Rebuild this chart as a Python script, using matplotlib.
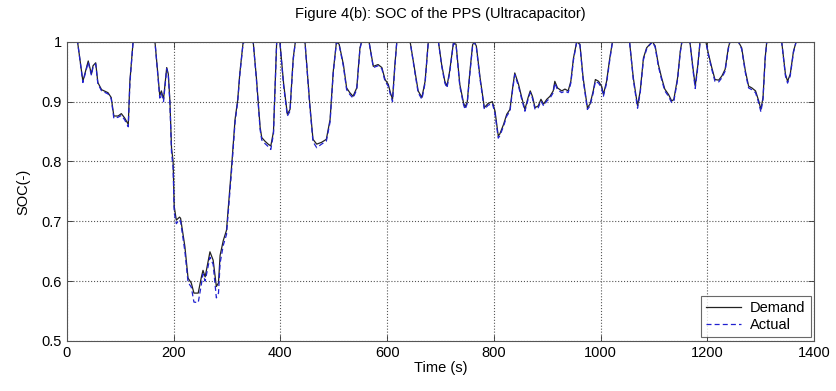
import matplotlib
matplotlib.use("Agg")
import matplotlib.pyplot as plt

plt.rcParams['font.family'] = ['Liberation Sans', 'DejaVu Sans']

time_s = [0, 20, 30, 40, 46, 49, 54, 58, 65, 77, 83, 88, 96, 102, 108, 115, 118, 124,
          165, 174, 177, 181, 187, 190, 193, 196, 199, 201, 205, 211, 213, 221, 227, 233,
          238, 246, 252, 255, 259, 268, 274, 280, 284, 287, 293, 299, 309, 315, 320, 324,
          330, 333, 349, 355, 362, 365, 371, 377, 382, 387, 393, 399, 406, 413, 418, 424,
          428, 446, 455, 461, 468, 477, 486, 493, 499, 505, 510, 518, 524, 530, 536, 543,
          549, 552, 566, 574, 583, 590, 596, 602, 606, 610, 614, 618, 643, 652, 658, 665,
          671, 677, 696, 702, 708, 712, 717, 724, 729, 736, 743, 746, 750, 755, 760, 763,
          767, 774, 782, 789, 797, 802, 808, 811, 818, 824, 830, 835, 839, 846, 852, 858,
          864, 868, 872, 877, 883, 888, 893, 899, 905, 911, 914, 919, 927, 933, 939, 944,
          949, 955, 961, 967, 975, 980, 986, 990, 996, 1002, 1005, 1011, 1017, 1022, 1054,
          1061, 1069, 1074, 1080, 1086, 1092, 1097, 1102, 1108, 1114, 1120, 1127, 1133,
          1137, 1144, 1149, 1152, 1167, 1172, 1177, 1182, 1186, 1197, 1202, 1208, 1214,
          1221, 1227, 1233, 1239, 1242, 1258, 1264, 1271, 1277, 1283, 1290, 1296, 1300,
          1304, 1308, 1311, 1339, 1346, 1350, 1355, 1361, 1366, 1370]

soc_demand = [1.0, 1.0, 0.934, 0.968, 0.946, 0.96, 0.965, 0.932, 0.92, 0.915, 0.907, 0.876,
              0.876, 0.88, 0.873, 0.862, 0.934, 1.0,
              1.0, 0.91, 0.918, 0.904, 0.957, 0.946, 0.901, 0.823, 0.80, 0.725, 0.702, 0.707,
              0.705, 0.658, 0.605, 0.597,
              0.58, 0.58, 0.607, 0.618, 0.607, 0.649, 0.635, 0.591, 0.597, 0.643, 0.668, 0.685,
              0.797, 0.87, 0.903, 0.948,
              0.998, 1.0, 1.0, 0.94, 0.857, 0.84, 0.834, 0.829, 0.826, 0.85, 1.0, 1.0, 0.93,
              0.879, 0.887, 0.973,
              1.0, 1.0, 0.896, 0.837, 0.829, 0.832, 0.837, 0.87, 0.951, 1.0, 0.996, 0.962,
              0.923, 0.915, 0.909, 0.923,
              0.99, 1.0, 1.0, 0.959, 0.962, 0.957, 0.937, 0.929, 0.915, 0.904, 0.957, 1.0,
              1.0, 0.951, 0.918, 0.907,
              0.934, 1.0, 1.0, 0.962, 0.934, 0.926, 0.951, 0.998, 0.996, 0.929, 0.898, 0.891,
              0.90, 0.951, 0.995, 1.0,
              0.993, 0.94, 0.89, 0.897, 0.90, 0.884, 0.843, 0.846, 0.862, 0.879, 0.887, 0.923,
              0.948, 0.929, 0.907, 0.887,
              0.907, 0.918, 0.909, 0.89, 0.893, 0.904, 0.896, 0.904, 0.909, 0.918, 0.934,
              0.923, 0.918, 0.921, 0.918, 0.934,
              0.973, 1.0, 0.996, 0.94, 0.89, 0.896, 0.918, 0.937, 0.934, 0.925, 0.912, 0.934,
              0.973, 1.0, 1.0,
              0.94, 0.893, 0.918, 0.973, 0.99, 0.996, 1.0, 0.993, 0.962, 0.94, 0.921, 0.912,
              0.901,
              0.904, 0.94, 0.984, 1.0, 1.0, 0.962, 0.926, 0.962, 1.0, 1.0, 0.979, 0.957, 0.937,
              0.936, 0.943, 0.954, 0.99, 1.0, 1.0, 0.99, 0.951, 0.926, 0.923, 0.918, 0.901,
              0.887,
              0.907, 0.973, 1.0, 1.0, 0.946, 0.934, 0.946, 0.984, 1.0, 1.0]

soc_actual = [1.0, 1.0, 0.932, 0.966, 0.944, 0.958, 0.963, 0.930, 0.918, 0.913, 0.905, 0.872,
              0.874, 0.877, 0.870, 0.858, 0.930, 1.0,
              1.0, 0.906, 0.914, 0.900, 0.955, 0.944, 0.897, 0.815, 0.79, 0.715, 0.696, 0.703,
              0.700, 0.650, 0.598, 0.590,
              0.565, 0.564, 0.595, 0.612, 0.600, 0.640, 0.628, 0.572, 0.580, 0.630, 0.660, 0.678,
              0.790, 0.865, 0.900, 0.945,
              0.997, 1.0, 1.0, 0.937, 0.853, 0.836, 0.830, 0.825, 0.820, 0.846, 1.0, 1.0, 0.926,
              0.876, 0.884, 0.970,
              1.0, 1.0, 0.893, 0.833, 0.823, 0.829, 0.834, 0.866, 0.948, 1.0, 0.995, 0.959,
              0.920, 0.912, 0.906, 0.920,
              0.988, 1.0, 1.0, 0.957, 0.960, 0.955, 0.934, 0.926, 0.912, 0.900, 0.954, 1.0,
              1.0, 0.948, 0.915, 0.904,
              0.931, 1.0, 1.0, 0.960, 0.931, 0.923, 0.948, 0.997, 0.995, 0.926, 0.895, 0.887,
              0.897, 0.948, 0.993, 1.0,
              0.991, 0.937, 0.887, 0.894, 0.897, 0.880, 0.839, 0.843, 0.859, 0.876, 0.884, 0.920,
              0.945, 0.926, 0.904, 0.884,
              0.904, 0.915, 0.906, 0.887, 0.890, 0.901, 0.893, 0.901, 0.906, 0.915, 0.931,
              0.920, 0.915, 0.918, 0.915, 0.931,
              0.970, 1.0, 0.995, 0.937, 0.887, 0.893, 0.915, 0.934, 0.931, 0.922, 0.909, 0.931,
              0.970, 1.0, 1.0,
              0.937, 0.889, 0.915, 0.970, 0.988, 0.995, 1.0, 0.991, 0.959, 0.937, 0.918, 0.909,
              0.898,
              0.901, 0.937, 0.982, 1.0, 1.0, 0.959, 0.922, 0.959, 1.0, 1.0, 0.977, 0.954, 0.934,
              0.933, 0.940, 0.951, 0.988, 1.0, 1.0, 0.988, 0.948, 0.923, 0.920, 0.915, 0.898,
              0.883,
              0.904, 0.970, 1.0, 1.0, 0.943, 0.931, 0.943, 0.982, 1.0, 1.0]

x_ticks = [0, 200, 400, 600, 800, 1000, 1200, 1400]
y_ticks = [0.5, 0.6, 0.7, 0.8, 0.9, 1.0]
y_tick_labels = ['0.5', '0.6', '0.7', '0.8', '0.9', '1']

fig = plt.figure(figsize=(8.36, 3.91), dpi=100)
ax = fig.add_axes([0.080, 0.128, 0.894, 0.765])

ax.plot(time_s, soc_demand, color='#222222', lw=0.9, label='Demand')
ax.plot(time_s, soc_actual, color='#2020d0', lw=0.9, ls=(0, (4, 2.5)), label='Actual')

ax.set_xlim(0, 1400)
ax.set_ylim(0.5, 1.0)
ax.set_xticks(x_ticks)
ax.set_yticks(y_ticks)
ax.set_yticklabels(y_tick_labels)
ax.tick_params(direction='in', top=True, right=True, labelsize=10.5, length=4, width=0.6,
               colors='#333333', labelcolor='black')
ax.grid(True, ls=':', color='#555555', lw=0.8)
for s in ax.spines.values():
    s.set_color('#555555')
    s.set_linewidth(0.8)

ax.set_title('Figure 4(b): SOC of the PPS (Ultracapacitor)', fontsize=10.5, pad=17)
ax.set_xlabel('Time (s)', fontsize=10.5, labelpad=1)
ax.set_ylabel('SOC(-)', fontsize=10.5, labelpad=8)

leg = ax.legend(loc='lower right', fontsize=10.5, frameon=True, fancybox=False,
                borderaxespad=0.25, handlelength=2.4, handletextpad=0.6,
                borderpad=0.35, labelspacing=0.2)
leg.get_frame().set_edgecolor('#444444')
leg.get_frame().set_linewidth(0.8)

fig.savefig('out.png', dpi=100)
